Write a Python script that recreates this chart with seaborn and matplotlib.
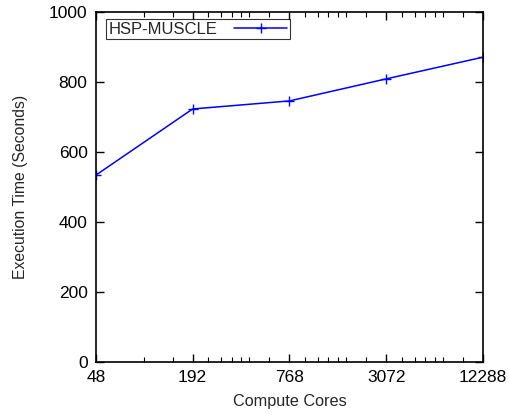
import matplotlib
matplotlib.use("Agg")
import matplotlib.pyplot as plt
import matplotlib.ticker as mticker
import seaborn as sns
import pandas as pd

cores = [48, 192, 768, 3072, 12288]
exec_time = [534, 723, 746, 809, 871]
series_name = "HSP-MUSCLE"
y_ticks = [0, 200, 400, 600, 800, 1000]

sns.set_theme(style="white")
plt.rcParams['font.family'] = ['Liberation Sans', 'DejaVu Sans']

df = pd.DataFrame({"cores": cores, "time": exec_time, "series": series_name})

fig = plt.figure(figsize=(5.1, 4.15), dpi=100)
ax = fig.add_axes([0.188, 0.1277, 0.759, 0.8433])

sns.lineplot(data=df, x="cores", y="time", hue="series", palette=["#0000ff"],
             marker="+", markersize=6.5, markeredgewidth=1.0, linewidth=1.1,
             markeredgecolor="#0000ff", ax=ax)

ax.set_xscale("log", base=4)
ax.set_xlim(cores[0], cores[-1])
ax.set_ylim(0, 1000)
ax.xaxis.set_major_locator(mticker.FixedLocator(cores))
ax.xaxis.set_major_formatter(mticker.FixedFormatter([str(c) for c in cores]))
minor = [cores[0] * 2, cores[0] * 3]
for c in cores[1:-1]:
    minor += [c * f for f in (1.25, 1.5, 1.75, 2, 2.25, 3)]
ax.xaxis.set_minor_locator(mticker.FixedLocator(minor))
ax.xaxis.set_minor_formatter(mticker.NullFormatter())
ax.set_yticks(y_ticks)

for s in ax.spines.values():
    s.set_visible(True)
    s.set_color("black")
    s.set_linewidth(1.2)

ax.tick_params(axis="both", which="major", direction="in", length=6, width=1.0,
               top=True, right=True, bottom=True, left=True,
               labelsize=12.5, color="black", labelcolor="black", pad=6)
ax.tick_params(axis="x", which="minor", direction="in", length=3.5, width=0.8,
               top=True, bottom=True, color="black")

ax.set_xlabel("Compute Cores", fontsize=11.7, labelpad=6)
ax.set_ylabel("Execution Time (Seconds)", fontsize=11.3, labelpad=15)

handles, labels = ax.get_legend_handles_labels()
leg = ax.legend(handles, labels, loc="upper left", bbox_to_anchor=(0.026, 0.98),
                markerfirst=False, fontsize=12, frameon=True, fancybox=False,
                borderpad=0.15, handlelength=3.2, handletextpad=1.0,
                borderaxespad=0.0)
leg.get_frame().set_edgecolor("black")
leg.get_frame().set_linewidth(0.8)

fig.savefig("out.png", dpi=100)
